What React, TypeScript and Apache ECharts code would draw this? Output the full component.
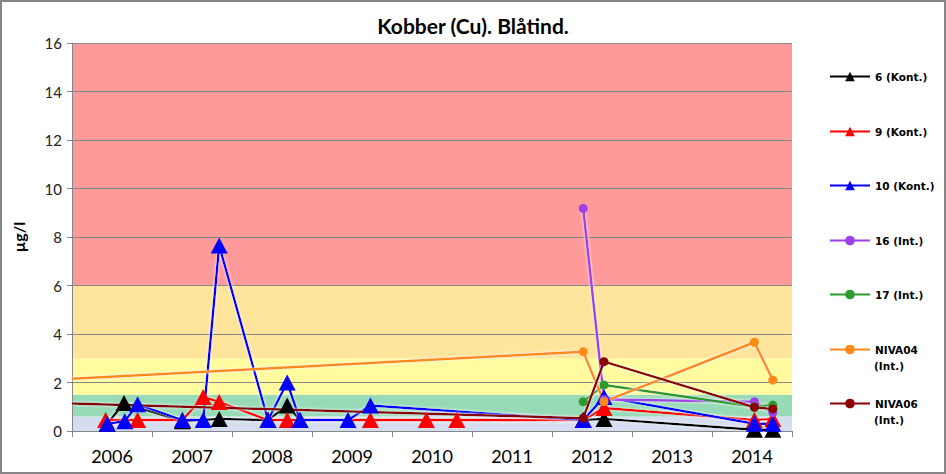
import React, { useEffect, useRef } from "react";
import * as echarts from "echarts";

// ---- data ----
const yearLabels = ["2006", "2007", "2008", "2009", "2010", "2011", "2012", "2013", "2014"];

const st6Dates = [2006.44, 2006.65, 2007.38, 2007.84, 2008.45, 2008.69, 2008.85, 2012.39, 2012.65, 2014.53, 2014.76];
const st6Values = [0.3, 1.15, 0.4, 0.5, 0.45, 1.05, 0.45, 0.45, 0.5, 0.05, 0.05];

const st9Dates = [2006.42, 2006.82, 2007.38, 2007.64, 2007.84, 2008.45, 2008.69, 2009.73, 2010.43, 2010.81, 2012.39, 2012.65, 2014.53, 2014.76];
const st9Values = [0.45, 0.45, 0.45, 1.4, 1.2, 0.45, 0.45, 0.45, 0.45, 0.45, 0.45, 0.95, 0.45, 0.5];

const st10Dates = [2006.44, 2006.66, 2006.82, 2007.38, 2007.64, 2007.84, 2008.45, 2008.69, 2008.85, 2009.45, 2009.73, 2012.39, 2012.65, 2014.53, 2014.76];
const st10Values = [0.3, 0.4, 1.1, 0.45, 0.45, 7.65, 0.45, 2.0, 0.45, 0.45, 1.05, 0.45, 1.4, 0.3, 0.3];

const st16Dates = [2012.39, 2012.65, 2014.53, 2014.76];
const st16Values = [9.18, 1.3, 1.21, 0.76];

const st17Dates = [2012.39, 2012.65, 2014.53, 2014.76];
const st17Values = [1.21, 1.9, 1.0, 1.07];

const niva04Dates = [2006.0, 2012.39, 2012.65, 2014.53, 2014.76];
const niva04Values = [2.15, 3.27, 1.21, 3.66, 2.1];

const niva06Dates = [2006.0, 2012.39, 2012.65, 2014.53, 2014.76];
const niva06Values = [1.13, 0.53, 2.86, 0.98, 0.91];

const seriesNames = ["6 (Kont.)", "9 (Kont.)", "10 (Kont.)", "16 (Int.)", "17 (Int.)", "NIVA04 (Int.)", "NIVA06 (Int.)"];
const seriesColors = ["#000000", "#FF0000", "#0000FF", "#A040E8", "#2E9A2E", "#FF8A1A", "#8B0000"];
const seriesSymbols = ["triangle", "triangle", "triangle", "circle", "circle", "circle", "circle"];
const seriesDates = [st6Dates, st9Dates, st10Dates, st16Dates, st17Dates, niva04Dates, niva06Dates];
const seriesValues = [st6Values, st9Values, st10Values, st16Values, st17Values, niva04Values, niva06Values];

// class limits (µg/l) and colours
const bandLimits = [0, 0.6, 1.5, 3, 6, 16];
const bandColors = ["#D5DDF0", "#96DAB6", "#FFFB9E", "#FFE49C", "#FF9A9A"];

const X_MIN = 2006;
const X_MAX = 2015;

const FONT = "Lato, 'Noto Sans', sans-serif";
const LEGEND_FONT = "'DejaVu Sans', Verdana, sans-serif";
const legendCenters = [78, 133, 187, 242, 296, 351, 405];

export default function App() {
  const ref = useRef<HTMLDivElement>(null);

  useEffect(() => {
    if (!ref.current) return;
    const chart = echarts.init(ref.current, null, { renderer: "svg" });

    const bandData = bandColors.map((c, i) => [
      { yAxis: bandLimits[i], itemStyle: { color: c, opacity: 1 } },
      { yAxis: bandLimits[i + 1] },
    ]);

    const dataSeries = seriesNames.map((name, i) => {
      const isTri = seriesSymbols[i] === "triangle";
      return {
        name,
        type: "line",
        xAxisIndex: 0,
        yAxisIndex: 0,
        z: 5,
        symbol: seriesSymbols[i],
        symbolSize: isTri ? [17, 16] : 9,
        color: seriesColors[i],
        lineStyle: {
          color: seriesColors[i],
          width: 2.5,
          shadowColor: "rgba(255,255,255,0.9)",
          shadowBlur: 3,
        },
        itemStyle: { color: seriesColors[i] },
        data: seriesDates[i].map((d, k) =>
          d === X_MIN
            ? { value: [d, seriesValues[i][k]], symbol: "none" }
            : { value: [d, seriesValues[i][k]] }
        ),
        clip: true,
      };
    });

    const legends = seriesNames.map((name, i) => ({
      data: [name],
      orient: "vertical",
      left: 829,
      top: legendCenters[i] - 7,
      itemWidth: 40,
      itemHeight: 12,
      itemGap: 0,
      padding: 0,
      selectedMode: false,
      formatter: (n: string) => (n.startsWith("NIVA") ? n.split(" ")[0] : n),
      textStyle: {
        fontFamily: LEGEND_FONT,
        fontWeight: "bold",
        fontSize: 10.5,
        color: "#000",
      },
    }));

    const option = {
      animation: false,
      backgroundColor: "#ffffff",
      title: {
        text: "Kobber (Cu). Blåtind.",
        left: "center",
        top: 10,
        textStyle: { fontFamily: FONT, fontWeight: "bold", fontSize: 21, color: "#000" },
      },
      legend: legends,
      grid: { left: 72, right: 154, top: 43, bottom: 43, containLabel: false },
      xAxis: [
        {
          type: "value",
          min: X_MIN,
          max: X_MAX,
          interval: 1,
          z: 3,
          axisLine: { show: true, lineStyle: { color: "#868686", width: 1 } },
          axisTick: { show: true, length: 6, lineStyle: { color: "#868686" } },
          axisLabel: { show: false },
          splitLine: { show: false },
        },
        {
          type: "category",
          data: yearLabels,
          boundaryGap: true,
          position: "bottom",
          z: 3,
          axisLine: { show: false },
          axisTick: { show: false },
          splitLine: { show: false },
          axisLabel: { interval: 0, margin: 16, fontFamily: FONT, fontSize: 18, color: "#000" },
        },
      ],
      yAxis: {
        type: "value",
        min: 0,
        max: 16,
        interval: 2,
        z: 3,
        name: "µg/l",
        nameLocation: "middle",
        nameRotate: 90,
        nameGap: 46,
        nameTextStyle: { fontFamily: FONT, fontWeight: "bold", fontSize: 16, color: "#000" },
        axisLine: { show: true, lineStyle: { color: "#868686", width: 1 } },
        axisTick: { show: true, length: 5, lineStyle: { color: "#868686" } },
        axisLabel: { margin: 10, fontFamily: FONT, fontSize: 15, color: "#222" },
        splitLine: { show: true, lineStyle: { color: "#868686", width: 1 } },
      },
      graphic: [
        {
          type: "rect",
          shape: { x: 1, y: 1, width: 944, height: 472 },
          style: { fill: "none", stroke: "#868686", lineWidth: 2 },
          silent: true,
          z: 100,
        },
        {
          type: "text",
          left: 874,
          top: 360,
          style: { text: "(Int.)", fontFamily: LEGEND_FONT, fontWeight: "bold", fontSize: 10.5, fill: "#000" },
        },
        {
          type: "text",
          left: 874,
          top: 414,
          style: { text: "(Int.)", fontFamily: LEGEND_FONT, fontWeight: "bold", fontSize: 10.5, fill: "#000" },
        },
      ],
      series: [
        {
          name: "bands",
          type: "line",
          xAxisIndex: 0,
          yAxisIndex: 0,
          data: [],
          z: 1,
          silent: true,
          markArea: { silent: true, z: 1, data: bandData },
        },
        ...dataSeries,
      ],
    };

    chart.setOption(option as any);
    return () => chart.dispose();
  }, []);

  return (
    <div
      ref={ref}
      style={{ position: "fixed", left: 0, top: 0, width: 946, height: 474, background: "#fff" }}
    />
  );
}
